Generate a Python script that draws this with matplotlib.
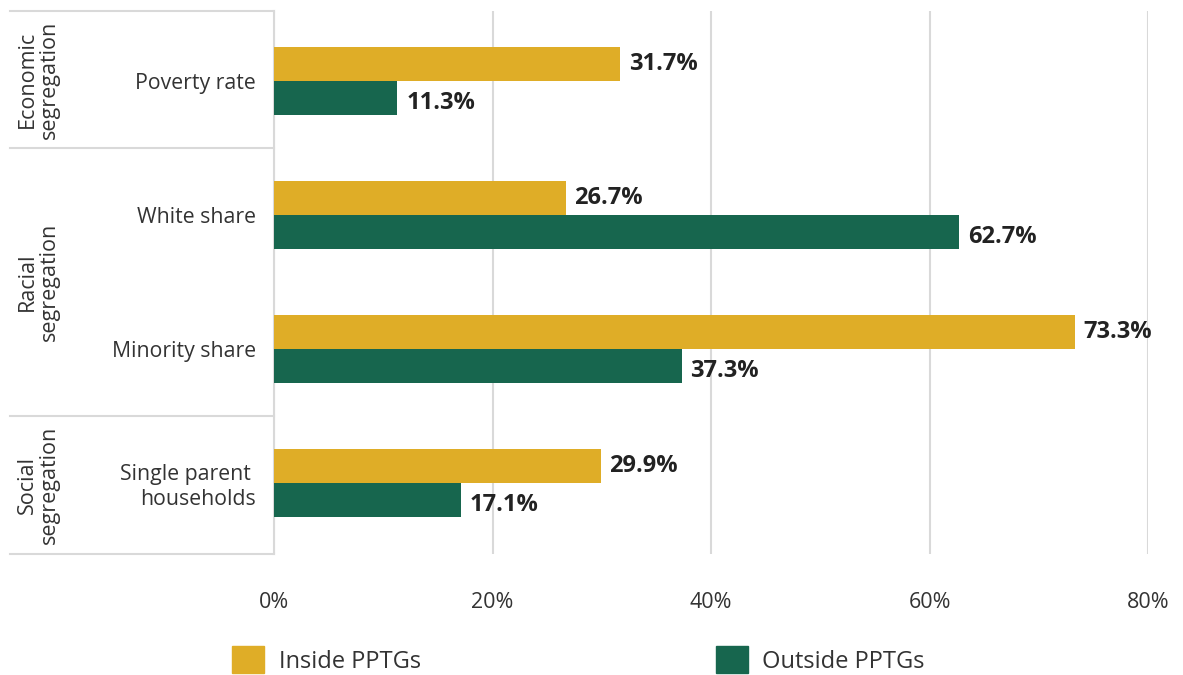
import numpy as np
import matplotlib.pyplot as plt
import matplotlib.transforms as mtransforms
from matplotlib.lines import Line2D
from matplotlib.patches import Patch

plt.rcParams['font.family'] = ['Open Sans', 'DejaVu Sans']

# data
categories = ['Poverty rate', 'White share', 'Minority share', 'Single parent \nhouseholds']
inside = [31.7, 26.7, 73.3, 29.9]
outside = [11.3, 62.7, 37.3, 17.1]
groups = ['Economic\nsegregation', 'Racial\nsegregation', 'Social\nsegregation']
group_spans = [(-0.52, 0.5), (0.5, 2.5), (2.5, 3.53)]
xticks = [0, 20, 40, 60, 80]

gold = '#DFAD27'
green = '#17664E'
txt = '#333333'
gridc = '#D9D9D9'

W, H = 1183, 675
fig = plt.figure(figsize=(W / 100, H / 100), dpi=100)
ax = fig.add_axes([274 / W, 1 - 554 / H, (1148 - 274) / W, (554 - 11) / H])

y = np.arange(len(categories))
h = 0.254
ax.barh(y - h / 2, inside, height=h, color=gold, label='Inside PPTGs', zorder=3)
ax.barh(y + h / 2, outside, height=h, color=green, label='Outside PPTGs', zorder=3)

for yi, v in zip(y, inside):
    ax.text(v + 0.8, yi - h / 2, f'{v}%', va='center', ha='left', fontsize=17,
            fontweight='bold', color='#222222')
for yi, v in zip(y, outside):
    ax.text(v + 0.8, yi + h / 2 + 0.04, f'{v}%', va='center', ha='left', fontsize=17,
            fontweight='bold', color='#222222')

ax.set_xlim(0, 80)
ax.set_ylim(3.53, -0.52)
ax.set_xticks(xticks)
ax.set_xticklabels([f'{t}%' for t in xticks], fontsize=15.5, color=txt)
ax.tick_params(axis='x', length=0, pad=27)
ax.set_yticks(y)
ax.set_yticklabels(categories, fontsize=15.3, color=txt)
ax.tick_params(axis='y', length=0, pad=13)
for s in ['top', 'right', 'bottom']:
    ax.spines[s].set_visible(False)
ax.spines['left'].set_color(gridc)
ax.spines['left'].set_linewidth(1.5)
ax.grid(axis='x', color=gridc, linewidth=1.5, zorder=0)
ax.set_axisbelow(True)

# left group panel
trans = mtransforms.blended_transform_factory(fig.transFigure, ax.transData)
for yy in [-0.52, 0.5, 2.5, 3.53]:
    ax.add_line(Line2D([10 / W, 274 / W], [yy, yy], transform=trans, color=gridc,
                       linewidth=1.5, clip_on=False))
for g, (a, b) in zip(groups, group_spans):
    ax.text(38 / W, (a + b) / 2, g, transform=trans, rotation=90, ha='center',
            va='center', fontsize=15.5, color=txt, linespacing=1.05)

handles = [Patch(color=gold, label='Inside PPTGs'), Patch(color=green, label='Outside PPTGs')]
fig.legend(handles=handles, loc='center left', bbox_to_anchor=(211 / W, 1 - 660 / H),
           ncol=2, frameon=False, fontsize=17, handlelength=1.36, handleheight=1.36,
           handletextpad=0.6, columnspacing=12.5, labelcolor=txt)

fig.savefig('out.png', dpi=100)
